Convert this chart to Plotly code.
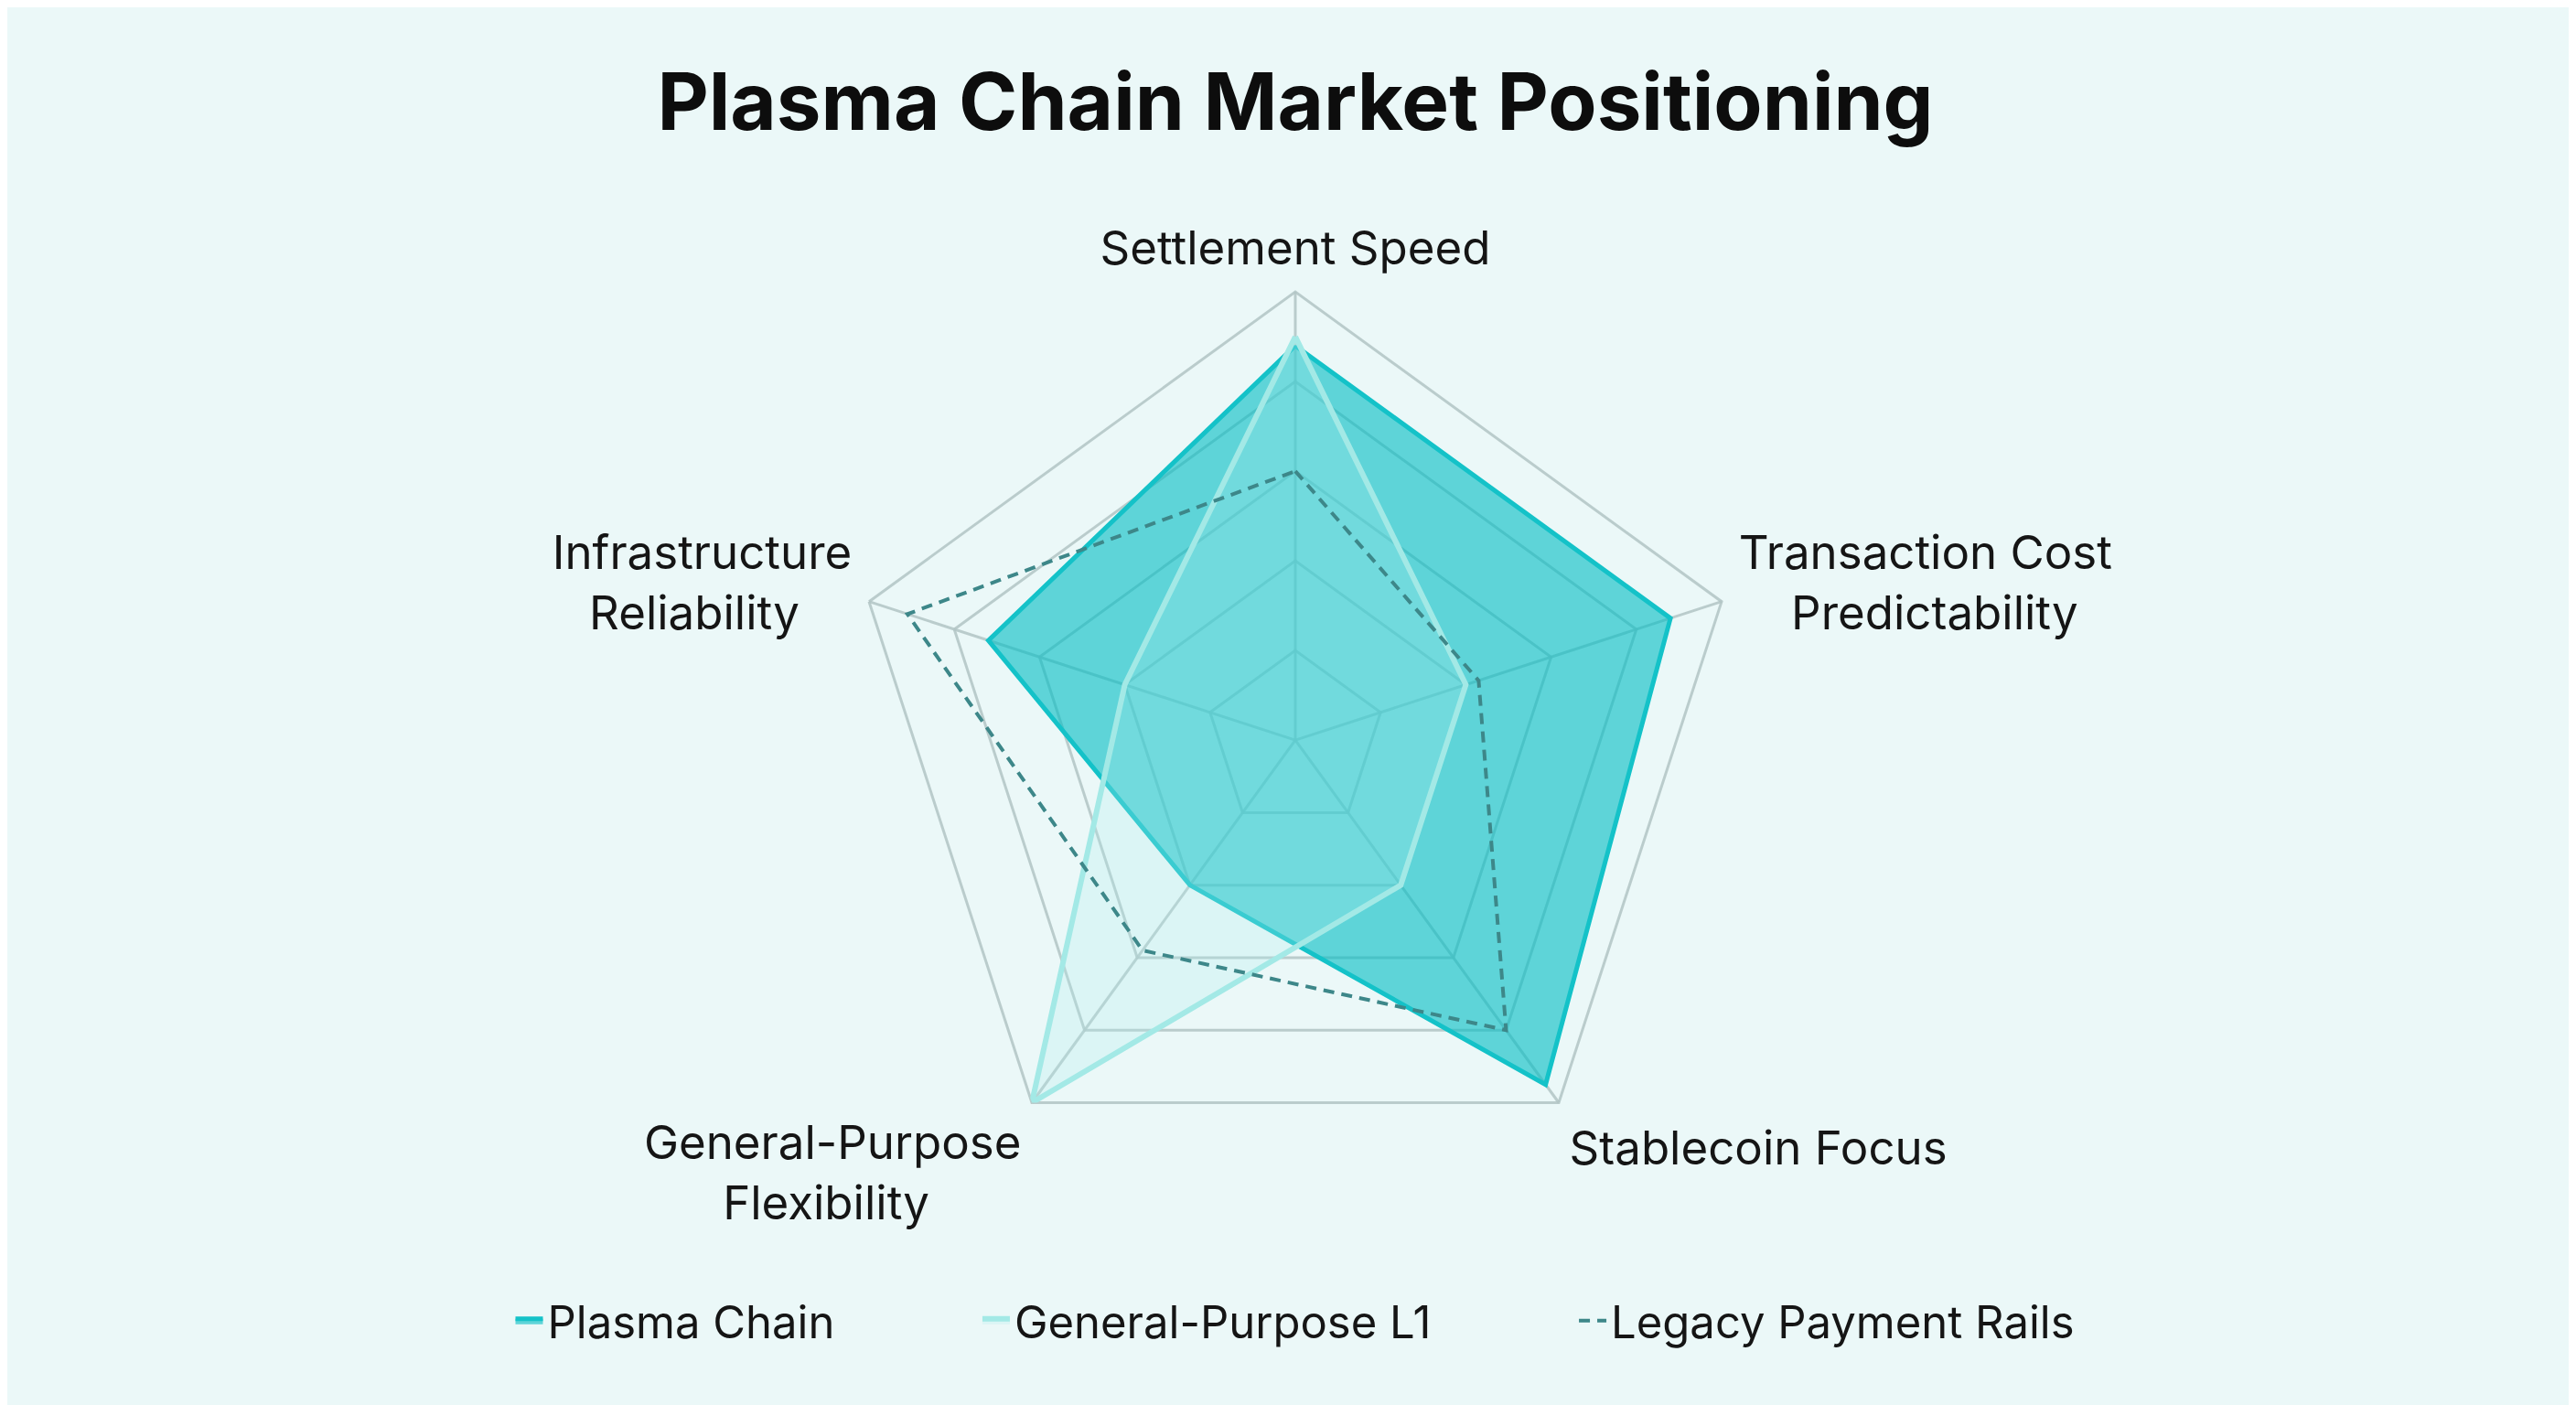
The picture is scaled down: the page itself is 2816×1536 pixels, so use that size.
import plotly.graph_objects as go

NB = "\u00a0"
categories = ["Settlement Speed",
              "Transaction Cost<br>" + NB * 4 + "Predictability",
              "Stablecoin Focus",
              "General-Purpose<br>Flexibility" + NB * 7,
              "Infrastructure<br>Reliability" + NB * 4]
plasma_chain = [88, 88, 95, 40, 72]
general_purpose_l1 = [90, 40, 40, 100, 40]
legacy_payment_rails = [60, 43, 80, 58, 91]
radial_ticks = [20, 40, 60, 80, 100]
series_names = ["Plasma Chain", "General-Purpose L1", "Legacy Payment Rails"]

def closed(v):
    return list(v) + [v[0]]

theta = closed(categories)
gap = NB * 11

fig = go.Figure()
fig.add_trace(go.Scatterpolar(
    r=closed(plasma_chain), theta=theta, name=series_names[0] + gap,
    mode="lines", fill="toself", fillcolor="rgba(0,188,195,0.6)",
    line=dict(color="#14c2c8", width=5),
))
fig.add_trace(go.Scatterpolar(
    r=closed(general_purpose_l1), theta=theta, name=series_names[1] + gap,
    mode="lines", fill="toself", fillcolor="rgba(170,236,234,0.25)",
    line=dict(color="#a3e9e6", width=6),
))
fig.add_trace(go.Scatterpolar(
    r=closed(legacy_payment_rails), theta=theta, name=series_names[2],
    mode="lines", line=dict(color="#3d8789", width=4, dash="12px,8px"),
))

grid_col = "rgba(178,196,196,0.85)"
fig.update_layout(
    width=2816, height=1536,
    margin=dict(l=0, r=0, t=0, b=0),
    paper_bgcolor="#ebf8f8",
    font=dict(family="Inter, Roboto, sans-serif", color="#111111"),
    title=dict(text="<b>Plasma Chain Market Positioning</b>", x=0.5, xanchor="center",
               y=1 - 104 / 1536, yanchor="middle", font=dict(size=87, color="#0d0d0d")),
    polar=dict(
        bgcolor="rgba(0,0,0,0)",
        domain=dict(x=[0.326, 0.674], y=[0.1569, 0.8]),
        gridshape="linear",
        radialaxis=dict(range=[0, 100], tickvals=radial_ticks, showticklabels=False,
                        ticks="", showline=False, gridcolor=grid_col, gridwidth=3,
                        layer="below traces"),
        angularaxis=dict(rotation=90, direction="clockwise", gridcolor=grid_col, gridwidth=3,
                         linecolor=grid_col, linewidth=3, ticks="outside", ticklen=8,
                         tickcolor="rgba(0,0,0,0)", tickfont=dict(size=51, color="#151515"),
                         layer="below traces"),
    ),
    legend=dict(orientation="h", x=0.5, xanchor="center", y=1 - 1436 / 1536, yanchor="middle",
                font=dict(size=49, color="#151515"), bgcolor="rgba(0,0,0,0)"),
)

fig.write_html("out.html")
